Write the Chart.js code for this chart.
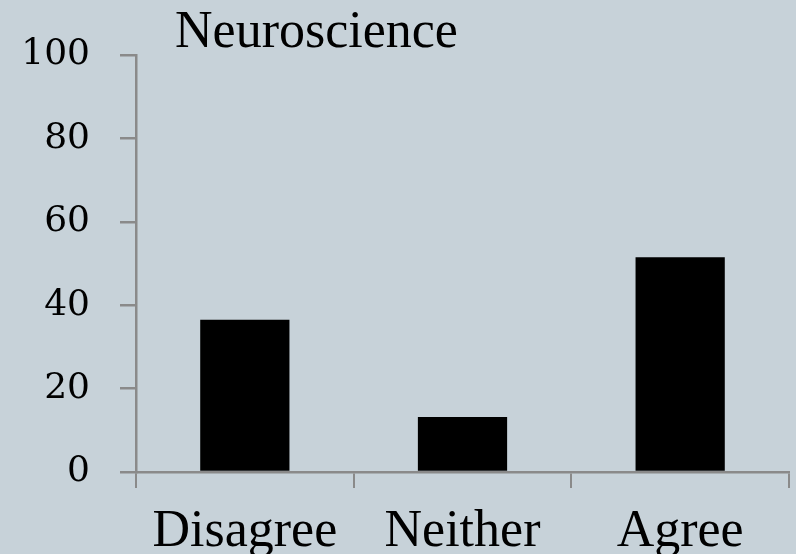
<!DOCTYPE html>
<html>
<head>
<meta charset="utf-8">
<script src="https://cdn.jsdelivr.net/npm/chart.js@4"></script>
<style>
  html, body { margin: 0; padding: 0; background: #c7d2d9; }
  #wrap { width: 796px; height: 554px; }
</style>
</head>
<body>
<div id="wrap"><canvas id="c" width="796" height="554"></canvas></div>
<script>
const categories = ["Disagree", "Neither", "Agree"];
const values = [36.5, 13.2, 51.5];
const yTicks = [0, 20, 40, 60, 80, 100];
const titleText = "Neuroscience";

const bgColor = "#c7d2d9";
const axisColor = "#8a8a8a";

const bgPlugin = {
  id: "bg",
  beforeDraw(chart) {
    const ctx = chart.ctx;
    ctx.save();
    ctx.fillStyle = bgColor;
    ctx.fillRect(0, 0, chart.width, chart.height);
    ctx.restore();
  },
  afterDraw(chart) {
    const ctx = chart.ctx;
    ctx.save();
    ctx.fillStyle = "#000";
    ctx.font = "52px 'Liberation Serif'";
    ctx.textBaseline = "alphabetic";
    ctx.textAlign = "left";
    ctx.fillText(titleText, 175, 47);
    ctx.restore();
  }
};

new Chart(document.getElementById("c"), {
  type: "bar",
  data: {
    labels: categories,
    datasets: [{
      data: values,
      backgroundColor: "#000000",
      borderWidth: 0,
      categoryPercentage: 1,
      barPercentage: 0.41
    }]
  },
  options: {
    responsive: false,
    animation: false,
    devicePixelRatio: 1,
    layout: { padding: { top: 55, right: 7, left: 0, bottom: 0 } },
    plugins: { legend: { display: false }, tooltip: { enabled: false }, title: { display: false } },
    scales: {
      x: {
        grid: { offset: true, drawOnChartArea: false, drawTicks: true, tickLength: 16, color: axisColor, lineWidth: 2 },
        border: { display: true, color: axisColor, width: 2.5 },
        ticks: { color: "#000", font: { family: "'Liberation Serif'", size: 52 }, padding: 13, maxRotation: 0, autoSkip: false },
        afterFit(scale) { scale.height = 82; }
      },
      y: {
        min: 0, max: 100,
        afterBuildTicks(scale) { scale.ticks = yTicks.map(v => ({ value: v })); },
        grid: { drawOnChartArea: false, drawTicks: true, tickLength: 16, color: axisColor, lineWidth: 2.5 },
        border: { display: true, color: axisColor, width: 2.5 },
        ticks: { color: "#000", font: { family: "'DejaVu Serif'", size: 36 }, padding: 30 },
        afterFit(scale) { scale.width = 136; }
      }
    }
  },
  plugins: [bgPlugin]
});
</script>
</body>
</html>
